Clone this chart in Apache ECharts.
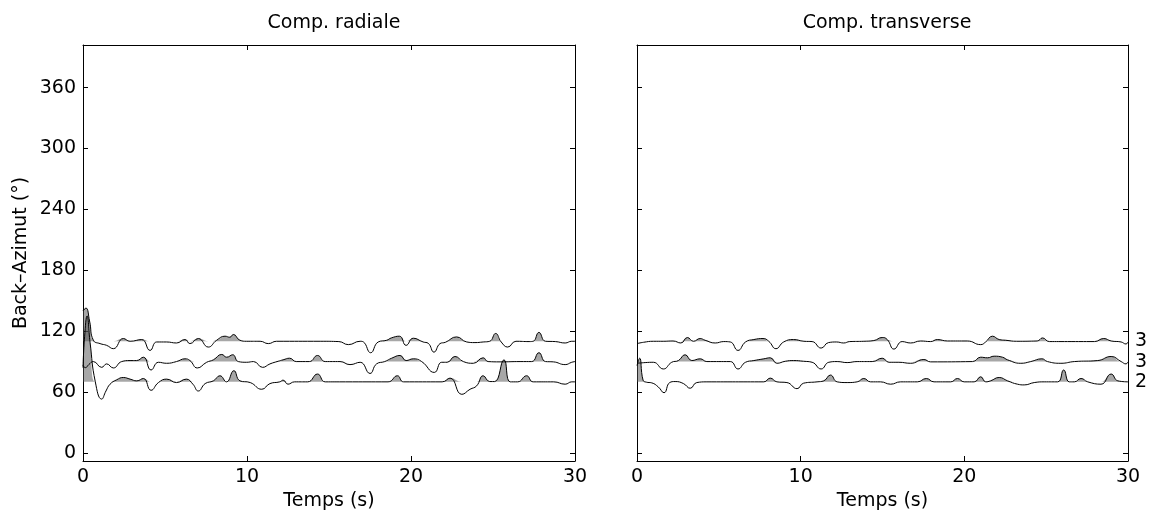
<!DOCTYPE html>
<html><head><meta charset="utf-8">
<script src="https://cdn.jsdelivr.net/npm/echarts@6/dist/echarts.min.js"></script>
<style>html,body{margin:0;padding:0;background:#fff}#c{width:1158px;height:521px}</style>
</head><body><div id="c"></div>
<script>
// ---- data (time in s, amplitude offset in degrees of back-azimuth) ----
const panelTitles = ['Comp. radiale', 'Comp. transverse'];
const xTicks = [0, 10, 20, 30];
const yTicks = [0, 60, 120, 180, 240, 300, 360];
const bazBins = [70, 90, 110];
const binCounts = ['2', '3', '3'];

// radial, baz 110
const radT110 = [0,0.18,0.4,0.63,1.04,1.44,1.85,2.46,2.87,3.58,4.09,4.49,5.1,5.7,6.22,6.52,7.03,7.64,8.15,8.66,8.95,9.17,9.57,9.98,10.8,11.3,11.8,14.5,15.6,16.18,16.9,17.1,17.54,18.0,18.52,18.8,19.29,19.7,20.14,20.74,21.05,21.4,21.77,22.1,22.78,23.4,23.9,24.4,24.8,25.16,25.5,25.9,26.4,27.2,27.45,27.8,28.2,28.8,29.4,29.8,30];
const radA110 = [30,32.7,20,1,-2.3,-4,-7.3,2.7,0,1.7,-9,-0.7,-0.7,-1.7,1.7,-2.3,2.7,-5.7,1,5,4,6.7,1,0,0,-2.3,0,0,-0.3,-3.3,0,-0.7,-11.3,-0.7,1,3.3,5,-4,3,-0.7,-2,-10.7,-2.3,-1,4.3,-0.7,-1.3,-0.7,0,7.7,-0.7,-5.7,0,-0.3,0,8.7,0,-0.3,-1.7,0,0];
// radial, baz 90
const radT90 = [0,0.15,0.35,0.63,1.14,1.44,1.85,2.36,2.87,3.27,3.68,4.15,4.6,5.1,5.7,6.22,6.52,6.97,7.54,7.95,8.46,8.76,9.13,9.47,9.98,10.4,10.95,11.4,11.9,12.2,12.6,13.0,13.8,14.3,14.77,15.67,16.28,16.9,17.5,17.9,18.4,18.82,19.33,19.7,20.14,20.65,21.42,21.87,22.2,22.68,23.19,23.8,24.4,24.7,25.43,26.65,27.36,27.8,28.2,28.68,29.4,29.8,30];
const radA90 = [-4,-6,-3,0,-5.7,-2.3,-6.3,0,1,1,4.3,-8.3,-0.7,-1.7,0,2.7,1,-6.3,-0.7,1.7,7,4.3,6.7,0,-0.7,0,-5.7,-2.3,0.3,1.7,3.3,0,0,6,0,0,-3,-0.7,-11.7,-2.3,0,3.3,6,1,2.7,0,-10.7,-0.7,-0.7,5,0,-1.7,3.7,0,-0.3,0,0,8.7,0,-0.3,-3,-0.7,0];
// radial, baz 70
const radT70 = [0,0.1,0.25,0.43,0.75,1.14,1.4,1.65,2.05,2.46,2.87,3.28,3.68,4.15,4.6,5.1,5.7,6.3,6.7,7.03,7.45,7.95,8.35,8.75,9.2,9.57,10.2,10.9,11.4,12.0,12.2,12.5,12.9,13.7,14.3,14.77,16.0,18.6,19.17,19.55,21.9,22.38,23.1,23.6,24.0,24.4,24.8,25.1,25.67,26.05,26.5,27.05,27.45,28.7,29.4,29.8,30];
const radA70 = [14,45,65,39,0,-17,-9,-2.3,2,4.3,2.7,1,3.3,-8.3,-0.7,2.7,-0.7,2.7,-2.3,-9,-1.7,1,6,0,11,1,-0.7,-7.3,-1.7,0,1.7,-2.3,0,0,7.7,0,0,0,6,0,0,3.7,-12.3,-7.3,-4,6,0.3,0.3,21.7,0,0,6,0,0,-2.3,0,0];

// transverse, baz 110
const trsT110 = [0,0.4,1.0,1.6,2.2,2.68,3.08,3.45,3.86,4.16,4.78,5.3,5.7,6.17,6.63,7.14,7.7,8.05,8.49,8.96,9.57,10.2,10.7,11.25,11.7,12.2,12.63,13.0,13.86,14.47,14.98,15.29,15.7,16.2,16.72,17.33,17.94,18.35,18.96,20.18,21.0,21.3,21.72,22.13,22.53,23.2,24.45,24.78,25.19,26.3,27.95,28.52,28.97,29.58,29.88,30];
const trsA110 = [-2.3,-1,0,0,0.3,-1.7,3.7,0,2.7,1,-1.7,-0.3,-0.7,-9,-0.7,1.7,2.7,0,-7.3,-0.7,1.7,0,-0.3,-6.7,-1.3,-0.7,-1.7,-0.3,0,0.7,3.7,1.7,-7.7,-0.3,-1.7,0.3,-0.3,1.7,0.3,0.3,-3.3,-0.7,5,1.7,1,0,0.3,3.3,-0.3,-0.3,-0.3,2.7,0.3,-0.7,-2.7,-0.7];
// transverse, baz 90
const trsT90 = [0,0.5,1.0,1.61,2.12,2.53,2.94,3.35,3.86,4.27,5.7,6.17,6.63,7.14,7.75,8.14,8.55,9.06,9.57,10.18,10.7,11.25,11.72,12.23,12.84,13.45,14.37,14.98,15.4,16.0,16.72,17.53,17.94,20.5,21.0,21.41,21.82,22.33,22.64,23.45,24.06,24.74,25.08,25.9,26.72,28.15,28.97,29.58,29.88,30];
const trsA90 = [-1.7,-1,-0.7,-7.3,-0.7,1,6.7,1,2.7,0,0,-7.3,-0.7,1,2.7,3.7,-1.7,0.3,1,0.3,-0.7,-7.3,-0.7,0,-1,0,0,3.3,-0.7,-0.7,-1.7,2,-0.3,0,4.3,3.7,5.3,4.3,1.7,-1.7,0,2.7,0,-1.7,0,1,5,0,-2.3,-0.3];
// transverse, baz 70
const trsT70 = [0,0.16,0.37,0.57,0.9,1.3,1.65,2.0,2.33,2.84,3.25,3.65,4.27,7.75,8.14,8.55,9.16,9.78,10.18,11.0,11.41,11.82,12.23,12.84,13.45,13.86,14.27,14.88,15.5,16.1,17.13,17.68,18.15,19.17,19.58,19.99,20.6,21.0,21.31,21.6,22.13,22.64,23.25,23.66,24.27,24.88,25.7,26.07,26.41,26.72,27.13,27.54,28.35,28.97,29.38,30];
const trsA70 = [16,23.3,1.7,-0.3,-1,-5,-10.7,-0.7,0.3,-1.7,-6.3,-0.7,0,0,3.7,0,-0.7,-6.7,-1.3,0,1,6.7,0,-0.7,0,3.3,0,0,-2.3,0,0,3.3,0,0,3.3,0,0,5,0,1,4.3,1,-2.3,-3,-0.7,0,0,11.7,0,0,3.3,0,-2.3,7.7,1,0];

// ---- chart ----
const FONT = 'DejaVu Sans';
const FS = 19;
const grids = [
  {left: 83, right: 583, top: 45, bottom: 60},
  {left: 637, right: 30, top: 45, bottom: 60}
];
const YMIN = -8, YMAX = 402;

function xAx(g, pos, showLab) {
  return {
    type: 'value', gridIndex: g, position: pos, min: 0, max: 30, interval: 10,
    axisLine: {show: true, onZero: false, lineStyle: {color: '#000', width: 1}},
    axisTick: {show: true, inside: true, length: 5, customValues: xTicks, lineStyle: {color: '#000'}},
    axisLabel: {show: showLab, customValues: xTicks, color: '#000', fontSize: FS, fontFamily: FONT, margin: 7},
    splitLine: {show: false},
    name: showLab ? 'Temps (s)' : '', nameLocation: 'middle', nameGap: 27,
    nameTextStyle: {color: '#000', fontSize: FS, fontFamily: FONT}
  };
}
function yAx(g, pos, labelVals, fmt, name) {
  return {
    type: 'value', gridIndex: g, position: pos, min: YMIN, max: YMAX,
    axisLine: {show: true, onZero: false, lineStyle: {color: '#000', width: 1}},
    axisTick: {show: true, inside: true, length: 5, customValues: yTicks, lineStyle: {color: '#000'}},
    axisLabel: {show: !!labelVals, customValues: labelVals || yTicks, formatter: fmt,
      color: '#000', fontSize: FS, fontFamily: FONT, margin: 7},
    splitLine: {show: false},
    name: name || '', nameLocation: 'middle', nameGap: 52, nameRotate: 90,
    nameTextStyle: {color: '#000', fontSize: FS, fontFamily: FONT}
  };
}

const traces = [
  {g: 0, baz: 110, T: radT110, A: radA110},
  {g: 0, baz: 90, T: radT90, A: radA90},
  {g: 0, baz: 70, T: radT70, A: radA70},
  {g: 1, baz: 110, T: trsT110, A: trsA110},
  {g: 1, baz: 90, T: trsT90, A: trsA90},
  {g: 1, baz: 70, T: trsT70, A: trsA70}
];
const SMOOTH = 0.5;
const fills = [], lines = [];
traces.forEach(tr => {
  const ax = tr.g * 2;
  fills.push({
    type: 'line', xAxisIndex: ax, yAxisIndex: ax, smooth: SMOOTH, symbol: 'none', silent: true,
    data: tr.T.map((t, i) => [t, tr.baz + Math.max(tr.A[i], 0)]),
    lineStyle: {width: 0, opacity: 0},
    areaStyle: {origin: tr.baz, color: 'rgba(80,80,80,0.5)', opacity: 1},
    z: 1
  });
  lines.push({
    type: 'line', xAxisIndex: ax, yAxisIndex: ax, smooth: SMOOTH, symbol: 'none', silent: true,
    data: tr.T.map((t, i) => [t, tr.baz + tr.A[i]]),
    lineStyle: {color: '#000', width: 1},
    z: 3
  });
});

const chart = echarts.init(document.getElementById('c'), null, {renderer: 'canvas'});
chart.setOption({
  animation: false,
  backgroundColor: '#fff',
  textStyle: {fontFamily: FONT},
  title: [
    {text: panelTitles[0], left: 329, top: 9, textAlign: 'center',
      textStyle: {fontSize: FS, fontWeight: 'normal', color: '#000', fontFamily: FONT}},
    {text: panelTitles[1], left: 882, top: 9, textAlign: 'center',
      textStyle: {fontSize: FS, fontWeight: 'normal', color: '#000', fontFamily: FONT}}
  ],
  grid: grids,
  xAxis: [xAx(0, 'bottom', true), xAx(0, 'top', false), xAx(1, 'bottom', true), xAx(1, 'top', false)],
  yAxis: [
    yAx(0, 'left', yTicks, null, 'Back–Azimut (°)'),
    yAx(0, 'right', null),
    yAx(1, 'left', null),
    yAx(1, 'right', bazBins, v => binCounts[bazBins.indexOf(v)])
  ],
  series: fills.concat(lines)
});
</script></body></html>
